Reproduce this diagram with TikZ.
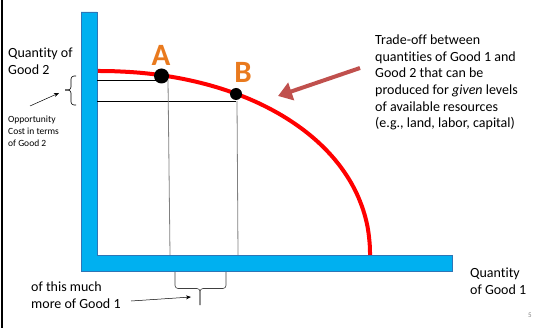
\documentclass[tikz,border=0pt]{standalone}
\usepackage{fontspec}
\setmainfont{Carlito}[Ligatures=CommonOff]
\usepackage{tikz}
\usetikzlibrary{arrows.meta}
\definecolor{axisblue}{HTML}{00B0F0}
\definecolor{axisedge}{HTML}{2E75B6}
\definecolor{ppfred}{HTML}{FF0000}
\definecolor{letterorange}{HTML}{E97A1E}
\definecolor{arrowred}{HTML}{C0504D}

\begin{document}
\begin{tikzpicture}[x=1pt, y=-1pt,
        txt/.style={anchor=west, align=left, inner sep=0pt, font=\fontsize{14}{16.6}\selectfont},
        smalltxt/.style={anchor=west, align=left, inner sep=0pt, font=\fontsize{9.5}{12}\selectfont},
        dot/.style={circle, fill=black, inner sep=0pt},
        letter/.style={text=letterorange, inner sep=0pt, font=\fontsize{31}{31}\selectfont\bfseries},
        guide/.style={line width=0.8pt},
        brace/.style={line width=0.6pt, rounded corners=3pt}]
        \useasboundingbox (0,0) rectangle (534,328);

        % Frame edge
        \draw[line width=2.5pt] (2,0) -- (2,328);

        % Production possibility frontier
        \draw[ppfred, line width=4pt] plot[domain=0:90, samples=90, smooth]
            ({97+273*pow(cos(\x)+0.00001,0.952)}, {255-184*pow(sin(\x)+0.00001,0.952)});

        % Axes
        \filldraw[fill=axisblue, draw=axisedge, line width=0.6pt]
            (81,12) -- (97,12) -- (97,255) -- (452,255) -- (452,271) -- (81,271) -- cycle;

        % Guide lines
        \draw[guide] (97,80) -- (162,80);
        \draw[guide] (97,101) -- (236,101);
        \draw[guide, gray] (168,80) -- (170,255);
        \draw[guide, gray] (237,101) -- (238,255);

        % Points
        \node[dot, minimum size=15pt] (A) at (161.5,76) {};
        \node[dot, minimum size=12pt] (B) at (236,94) {};
        \node[letter] (Alabel) at (161,55) {A};
        \node[letter] (Blabel) at (243,72) {B};

        % Labels
        \node[txt] (yaxis) at (8,61) {Quantity of\\Good 2};
        \node[smalltxt] (cost) at (8,131) {Opportunity\\Cost in terms\\of Good 2};
        \node[txt] (more) at (31,295) {of this much\\more of Good 1};
        \node[txt] (xaxis) at (470,281) {Quantity\\of Good 1};
        \node[txt] (tradeoff) at (375,82.5) {Trade-off between\\quantities of Good 1 and\\Good 2 that can be\\produced for \emph{given} levels\\of available resources\\(e.g., land, labor, capital)};
        \node[text=gray, inner sep=0pt, font=\fontsize{7}{7}\selectfont] (page) at (530,315) {5};

        % Braces
        \draw[brace] (76,76) -| (71,90) -- (65,90);
        \draw[brace] (76,105) -| (71,90) -- (65,90);
        \draw[brace, black!75] (175,272) |- (200,288.5) -- (200,305);
        \draw[brace, black!75] (226,272) |- (200,288.5) -- (200,305);

        % Arrows
        \coordinate (costtip) at (59,93);
        \coordinate (moretip) at (191,297);
        \coordinate (tradestart) at (360,68);
        \coordinate (tradetip) at (278,96);
        \draw[-{Stealth[length=5pt, width=4pt]}, line width=0.5pt] (30,106) -- (costtip);
        \draw[-{Stealth[length=5pt, width=4pt]}, line width=0.5pt] (131,301) -- (moretip);
        \draw[arrowred, line width=4pt, -{Triangle[length=14pt, width=18pt]}] (tradestart) -- (tradetip);
    \end{tikzpicture}
\end{document}
